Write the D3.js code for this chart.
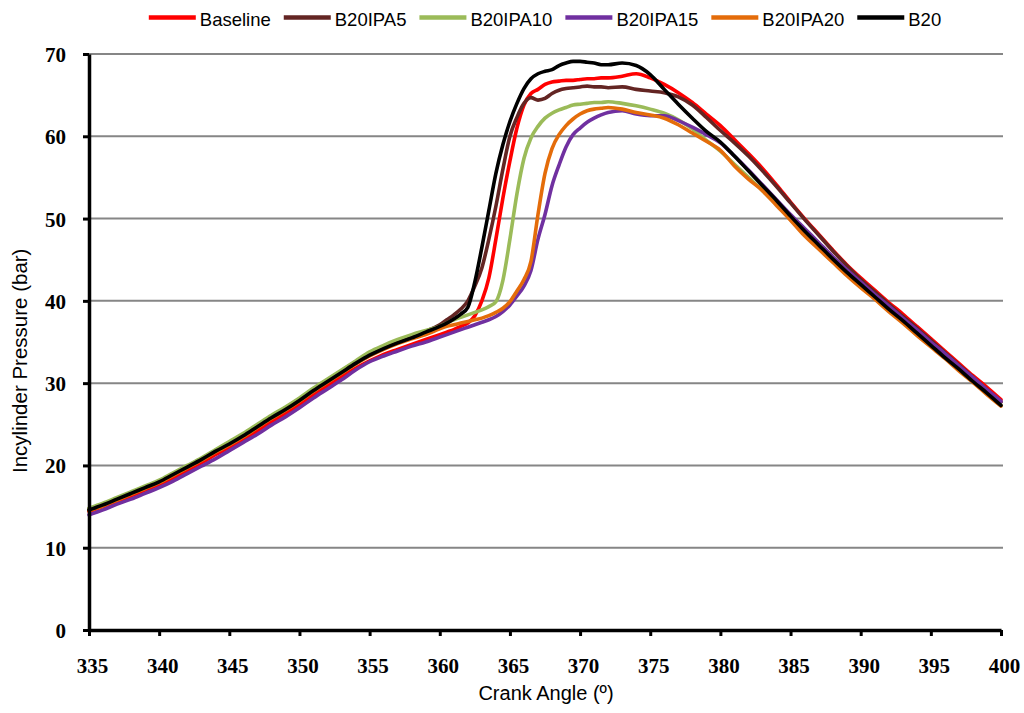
<!DOCTYPE html>
<html>
<head>
<meta charset="utf-8">
<script src="https://cdn.jsdelivr.net/npm/d3@7"></script>
<style>
  html, body { margin: 0; padding: 0; background: #fff; }
  svg { display: block; }
</style>
</head>
<body>
<svg id="chart" width="1024" height="713"></svg>
<script>
// Crank angle samples (deg); finer spacing through the combustion phase
const angles = [
  335, 336, 337, 338, 339, 340, 341, 342, 343, 344, 345, 346, 347, 348, 349,
  350, 351, 352, 353, 354, 355, 356, 357, 358, 359, 360,
  360.5, 361, 361.5, 362, 362.5, 363, 363.5, 364, 364.5, 365, 365.5, 366,
  366.5, 367, 367.5, 368, 368.5, 369, 369.5, 370, 370.5, 371, 371.5, 372,
  373, 374, 375, 376, 377, 378, 379, 380, 381, 382, 383, 384, 385, 386, 387,
  388, 389, 390, 391, 392, 393, 394, 395, 396, 397, 398, 399, 400
];

// In-cylinder pressure (bar) for each fuel
const baseline = [
  14.4, 15.0, 15.6, 16.3, 17.0, 17.7, 18.5, 19.4, 20.3, 21.3, 22.2, 23.2, 24.2, 25.3, 26.3,
  27.4, 28.6, 29.7, 30.8, 31.8, 32.7, 33.5, 34.1, 34.7, 35.3, 35.9,
  36.2, 36.5, 36.9, 37.3, 38.2, 40.0, 42.8, 47.5, 52.5, 57.0, 61.0, 63.8,
  65.2, 65.7, 66.3, 66.6, 66.7, 66.8, 66.8, 66.9, 67.0, 67.0, 67.1, 67.1,
  67.3, 67.6, 67.1, 66.3, 65.3, 64.1, 62.7, 61.3, 59.6, 57.9, 56.1, 54.1, 52.0, 50.0, 48.1,
  46.2, 44.4, 42.8, 41.3, 39.8, 38.4, 36.9, 35.4, 33.9, 32.4, 30.9, 29.5, 28.0
];
const b20ipa5 = [
  14.7, 15.3, 16.0, 16.7, 17.4, 18.1, 19.0, 19.9, 20.8, 21.8, 22.8, 23.8, 24.9, 26.0, 27.0,
  28.1, 29.3, 30.4, 31.5, 32.6, 33.5, 34.3, 35.0, 35.6, 36.3, 37.1,
  37.7, 38.3, 39.0, 40.0, 41.8, 44.0, 47.5, 51.5, 56.0, 60.0, 62.3, 64.0,
  64.7, 64.4, 64.6, 65.2, 65.6, 65.8, 65.9, 66.0, 66.1, 66.0, 66.0, 65.9,
  66.0, 65.7, 65.5, 65.3, 64.8, 63.8, 62.3, 60.7, 59.2, 57.6, 55.8, 53.9, 51.9, 49.9, 48.0,
  46.1, 44.3, 42.6, 41.1, 39.6, 38.1, 36.7, 35.2, 33.7, 32.2, 30.7, 29.2, 27.7
];
const b20ipa10 = [
  14.8, 15.4, 16.1, 16.8, 17.5, 18.2, 19.1, 20.0, 20.9, 21.9, 22.9, 23.9, 25.0, 26.1, 27.1,
  28.2, 29.4, 30.5, 31.6, 32.7, 33.8, 34.6, 35.3, 35.9, 36.4, 36.9,
  37.3, 37.7, 38.0, 38.3, 38.6, 38.9, 39.3, 39.9, 42.5, 47.5, 53.0, 57.3,
  59.8, 61.2, 62.2, 62.8, 63.2, 63.5, 63.8, 63.9, 64.0, 64.1, 64.1, 64.2,
  64.0, 63.7, 63.3, 62.8, 62.0, 60.9, 59.5, 58.2, 56.6, 55.0, 53.4, 51.7, 49.9, 48.1, 46.4,
  44.8, 43.2, 41.7, 40.3, 38.8, 37.4, 35.9, 34.5, 33.1, 31.6, 30.2, 28.7, 27.3
];
const b20ipa15 = [
  14.0, 14.6, 15.3, 15.9, 16.6, 17.3, 18.1, 19.0, 19.9, 20.8, 21.8, 22.8, 23.8, 24.9, 25.9,
  27.0, 28.2, 29.3, 30.4, 31.6, 32.6, 33.3, 33.9, 34.5, 35.0, 35.6,
  35.9, 36.2, 36.5, 36.8, 37.1, 37.4, 37.7, 38.1, 38.7, 39.5, 40.6, 41.8,
  43.7, 47.5, 50.5, 54.0, 56.5, 58.7, 60.2, 61.0, 61.7, 62.2, 62.6, 62.9,
  63.1, 62.7, 62.5, 62.5, 61.9, 61.1, 60.2, 59.2, 57.6, 55.9, 54.1, 52.3, 50.5, 48.8, 47.1,
  45.4, 43.8, 42.3, 40.8, 39.4, 37.9, 36.5, 35.0, 33.6, 32.1, 30.7, 29.2, 27.8
];
const b20ipa20 = [
  14.5, 15.1, 15.8, 16.5, 17.2, 17.9, 18.8, 19.7, 20.6, 21.6, 22.5, 23.5, 24.6, 25.7, 26.7,
  27.8, 29.0, 30.1, 31.2, 32.3, 33.3, 34.1, 34.8, 35.4, 35.9, 36.6,
  36.9, 37.1, 37.3, 37.5, 37.7, 37.9, 38.2, 38.6, 39.1, 39.9, 41.2, 42.6,
  44.8, 50.5, 55.5, 58.5, 60.2, 61.3, 62.1, 62.7, 63.1, 63.3, 63.4, 63.5,
  63.3, 62.9, 62.6, 62.2, 61.4, 60.4, 59.4, 58.3, 56.4, 54.8, 53.4, 51.6, 49.8, 47.9, 46.3,
  44.7, 43.1, 41.6, 40.2, 38.7, 37.3, 35.8, 34.4, 33.0, 31.5, 30.1, 28.6, 27.2
];
const b20 = [
  14.6, 15.2, 15.9, 16.6, 17.3, 18.0, 18.9, 19.8, 20.7, 21.7, 22.6, 23.6, 24.7, 25.8, 26.8,
  27.9, 29.1, 30.2, 31.3, 32.4, 33.4, 34.2, 34.9, 35.5, 36.2, 36.9,
  37.3, 37.8, 38.4, 39.2, 42.3, 46.5, 51.0, 55.5, 59.0, 61.8, 64.0, 65.8,
  67.0, 67.6, 67.9, 68.1, 68.6, 68.9, 69.1, 69.1, 69.0, 68.9, 68.7, 68.7,
  68.9, 68.6, 67.5, 65.7, 63.9, 62.2, 60.6, 59.3, 57.6, 55.8, 54.0, 52.2, 50.3, 48.5, 46.8,
  45.1, 43.5, 42.0, 40.5, 39.0, 37.6, 36.1, 34.6, 33.1, 31.7, 30.2, 28.8, 27.3
];

const seriesNames = ["Baseline", "B20IPA5", "B20IPA10", "B20IPA15", "B20IPA20", "B20"];
const seriesValues = [baseline, b20ipa5, b20ipa10, b20ipa15, b20ipa20, b20];
const seriesColors = ["#ff0000", "#632523", "#9bbb59", "#7030a0", "#e46c0a", "#000000"];

const xTicks = [335, 340, 345, 350, 355, 360, 365, 370, 375, 380, 385, 390, 395, 400];
const yTicks = [0, 10, 20, 30, 40, 50, 60, 70];

const xTitle = "Crank Angle (º)";
const yTitle = "Incylinder Pressure (bar)";

// ---- layout ----
const svg = d3.select("#chart");
const plot = { left: 89, right: 1001, top: 54, bottom: 630 };

const x = d3.scaleLinear().domain([335, 400]).range([plot.left, plot.right]);
const y = d3.scaleLinear().domain([0, 70]).range([plot.bottom, plot.top]);

// horizontal gridlines
svg.append("g")
  .selectAll("line")
  .data(yTicks.filter(d => d > 0))
  .join("line")
  .attr("x1", plot.left)
  .attr("x2", plot.right + 2)
  .attr("y1", d => y(d))
  .attr("y2", d => y(d))
  .attr("stroke", "#868686")
  .attr("stroke-width", 2);

// series lines
const line = d3.line()
  .x(d => x(d[0]))
  .y(d => y(d[1]))
  .curve(d3.curveMonotoneX);

svg.append("g")
  .selectAll("path")
  .data(seriesValues.map((vals, i) => ({ name: seriesNames[i], color: seriesColors[i], pts: angles.map((a, j) => [a, vals[j]]) })))
  .join("path")
  .attr("d", d => line(d.pts))
  .attr("fill", "none")
  .attr("stroke", d => d.color)
  .attr("stroke-width", 3.6)
  .attr("stroke-linejoin", "round")
  .attr("stroke-linecap", "round");

// axes
const tickFont = "'Liberation Serif', 'Times New Roman', serif";

const yAxis = svg.append("g")
  .attr("transform", `translate(${plot.left},0)`)
  .call(d3.axisLeft(y).tickValues(yTicks).tickSize(6).tickSizeOuter(0).tickPadding(17).tickFormat(d3.format("d")));

const xAxis = svg.append("g")
  .attr("transform", `translate(0,${plot.bottom})`)
  .call(d3.axisBottom(x).tickValues(xTicks).tickSize(6).tickSizeOuter(0).tickPadding(22).tickFormat(d3.format("d")));

[yAxis, xAxis].forEach(g => {
  g.select(".domain").attr("stroke", "#000").attr("stroke-width", 3.5);
  g.selectAll(".tick line").attr("stroke", "#000").attr("stroke-width", 3);
  g.selectAll(".tick text")
    .attr("fill", "#000")
    .style("font-family", tickFont)
    .style("font-weight", "bold")
    .style("font-size", "21px");
});
yAxis.selectAll(".tick text").attr("dy", "0.36em");
xAxis.selectAll(".tick text").attr("dx", 3);

// axis titles
const titleFont = "'Liberation Sans', Arial, sans-serif";
svg.append("text")
  .attr("x", 546)
  .attr("y", 700)
  .attr("text-anchor", "middle")
  .style("font-family", titleFont)
  .style("font-size", "20px")
  .attr("fill", "#000")
  .text(xTitle);

svg.append("text")
  .attr("transform", "translate(27,473) rotate(-90)")
  .attr("text-anchor", "start")
  .style("font-family", titleFont)
  .style("font-size", "20.5px")
  .attr("fill", "#000")
  .text(yTitle);

// legend across the top, centred over the plot
const legend = svg.append("g");
const lineLen = 47, lineGap = 4, itemGap = 13, legendFont = 18.5;
const items = legend.selectAll("g")
  .data(seriesNames.map((n, i) => ({ name: n, color: seriesColors[i] })))
  .join("g");
items.append("line")
  .attr("x1", 0).attr("x2", lineLen)
  .attr("y1", 0).attr("y2", 0)
  .attr("stroke", d => d.color)
  .attr("stroke-width", 4.5);
items.append("text")
  .attr("x", lineLen + lineGap)
  .attr("y", 8.5)
  .style("font-family", titleFont)
  .style("font-size", legendFont + "px")
  .attr("fill", "#000")
  .text(d => d.name);

const widths = [];
items.each(function () {
  const w = this.querySelector("text").getComputedTextLength();
  widths.push(lineLen + lineGap + w);
});
const total = d3.sum(widths) + itemGap * (widths.length - 1);
let cx = (plot.left + plot.right) / 2 - total / 2;
items.attr("transform", (d, i) => {
  const t = `translate(${cx},17.5)`;
  cx += widths[i] + itemGap;
  return t;
});
</script>
</body>
</html>
